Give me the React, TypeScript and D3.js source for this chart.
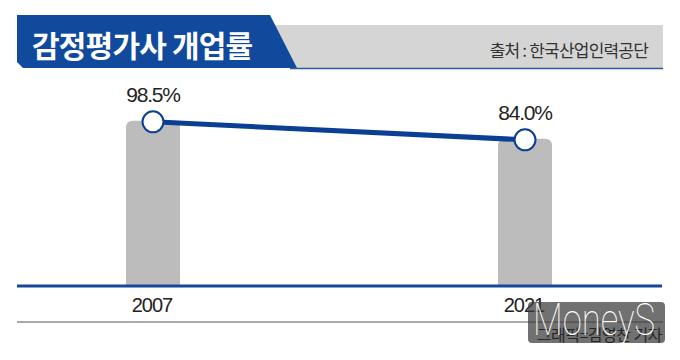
import { useRef, useEffect } from "react";
import * as d3 from "d3";

const years = ["2007", "2021"];
const rates = [98.5, 84.0];
const rateLabels = ["98.5%", "84.0%"];
const title = "감정평가사 개업률";
const source = "출처 : 한국산업인력공단";
const credit = "그래픽=김영찬 기자";

export default function App() {
  const root = useRef<SVGSVGElement>(null);
  const width = 680;
  const height = 360;
  const baseY = 285;

  useEffect(() => {
    const svg = d3.select(root.current);
    svg.selectAll("*").remove();

    const x = d3.scalePoint<string>().domain(years).range([153, 525]);
    const y = d3.scaleLinear().domain([-33, 100]).range([baseY, 120]);
    const data = years.map((yr, i) => ({ yr, v: rates[i], label: rateLabels[i] }));

    // header
    svg.append("rect").attr("x", 270).attr("y", 25).attr("width", 393).attr("height", 43).attr("fill", "#d5d5d6");
    svg.append("path")
      .attr("d", "M17,15 L270,15 L297,68 L23,68 L17,62 Z")
      .attr("fill", "#114a9c");
    svg.append("line").attr("x1", 290).attr("x2", 663).attr("y1", 68.5).attr("y2", 68.5)
      .attr("stroke", "#2d5c9c").attr("stroke-width", 1.5);
    svg.append("text").attr("x", 32).attr("y", 57).text(title)
      .attr("fill", "#fff").attr("font-size", 30).attr("font-weight", 700)
      .attr("font-family", "'Noto Sans CJK KR', sans-serif").attr("letter-spacing", -0.8);
    svg.append("text").attr("x", 648).attr("y", 57).attr("text-anchor", "end").text(source)
      .attr("fill", "#333").attr("font-size", 17).attr("font-family", "'Noto Sans CJK KR', sans-serif")
      .attr("letter-spacing", -0.8);

    // bars
    const bw = 54;
    const r = 7;
    svg.selectAll("path.bar").data(data).enter().append("path")
      .attr("class", "bar")
      .attr("fill", "#bcbcbc")
      .attr("d", d => {
        const x0 = (x(d.yr) as number) - bw / 2;
        const t = y(d.v) - 1;
        return `M${x0},${baseY} L${x0},${t + r} Q${x0},${t} ${x0 + r},${t} L${x0 + bw - r},${t} Q${x0 + bw},${t} ${x0 + bw},${t + r} L${x0 + bw},${baseY} Z`;
      });

    // axis lines
    svg.append("line").attr("x1", 17).attr("x2", 662).attr("y1", baseY + 1).attr("y2", baseY + 1)
      .attr("stroke", "#17479a").attr("stroke-width", 3);
    svg.append("line").attr("x1", 17).attr("x2", 663).attr("y1", 322).attr("y2", 322)
      .attr("stroke", "#555").attr("stroke-width", 1.2);

    // line
    const line = d3.line<{ yr: string; v: number }>().x(d => x(d.yr) as number).y(d => y(d.v));
    svg.append("path").datum(data).attr("d", line).attr("fill", "none")
      .attr("stroke", "#0b3f93").attr("stroke-width", 5);

    svg.selectAll("circle").data(data).enter().append("circle")
      .attr("cx", d => x(d.yr) as number).attr("cy", d => y(d.v)).attr("r", 10.5)
      .attr("fill", "#fff").attr("stroke", "#0b3f93").attr("stroke-width", 2);

    svg.selectAll("text.val").data(data).enter().append("text")
      .attr("class", "val")
      .attr("x", d => x(d.yr) as number).attr("y", d => y(d.v) - 20)
      .attr("text-anchor", "middle").attr("font-size", 21)
      .attr("font-family", "'Liberation Sans', Arial, sans-serif").attr("letter-spacing", -1.2)
      .attr("fill", "#222").text(d => d.label);

    svg.selectAll("text.year").data(data).enter().append("text")
      .attr("class", "year")
      .attr("x", d => (x(d.yr) as number) - 1).attr("y", 312)
      .attr("text-anchor", "middle").attr("font-size", 20)
      .attr("font-family", "'Liberation Sans', Arial, sans-serif").attr("letter-spacing", -1)
      .attr("fill", "#222").text(d => d.yr);

    // watermark
    svg.append("rect").attr("x", 528).attr("y", 302).attr("width", 137).attr("height", 41).attr("rx", 4)
      .attr("fill", "#3a3a3a").attr("opacity", 0.72);
    svg.append("text").attr("x", 662).attr("y", 341).attr("text-anchor", "end").text(credit)
      .attr("fill", "#262626").attr("font-size", 16).attr("font-family", "'Noto Sans CJK KR', sans-serif")
      .attr("letter-spacing", -0.5);
    svg.append("text").attr("x", 533).attr("y", 335).text("MoneyS")
      .attr("fill", "#fff").attr("font-size", 44).attr("font-weight", 100)
      .attr("textLength", 122).attr("lengthAdjust", "spacingAndGlyphs")
      .attr("font-family", "Roboto, 'Liberation Sans', sans-serif");
  }, []);

  return (
    <div style={{ position: "absolute", left: 0, top: 0, width, height, background: "#fff" }}>
      <svg ref={root} width={width} height={height}></svg>
    </div>
  );
}
